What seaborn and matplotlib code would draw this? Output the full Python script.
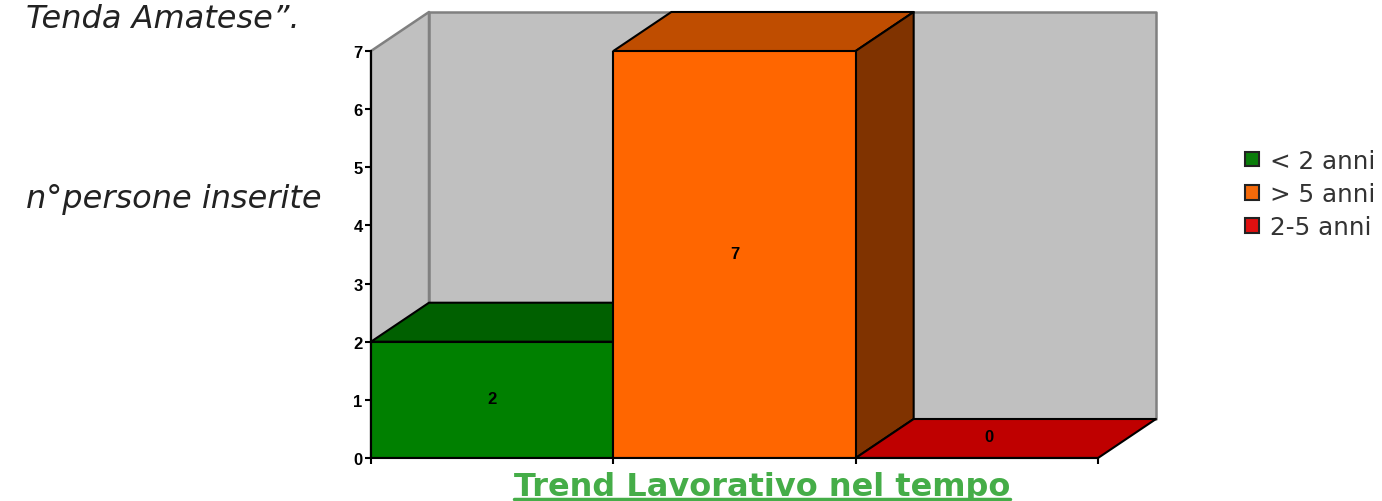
import matplotlib
matplotlib.use("Agg")
import numpy as np
import pandas as pd
import seaborn as sns
import matplotlib.pyplot as plt
from matplotlib.colors import to_rgb
from matplotlib.lines import Line2D
from matplotlib.patches import Patch, Polygon

# ------ dati ------ #
categories = ["< 2 anni", "> 5 anni", "2-5 anni"]
values = [2, 7, 0]
bar_colors = ["#008000", "#FF6600", "#FF0000"]
legend_colors = ["#0A7D0A", "#F56A0A", "#E01010"]
y_ticks = [0, 1, 2, 3, 4, 5, 6, 7]
chart_title = "Trend Lavorativo nel tempo"
side_notes = ["Tenda Amatese”.", "n°persone inserite"]

W, H = 1382, 502
DEPTH_X = 58 / 242.33   # profondita' 3D in unita' dei dati
DEPTH_Y = 39 / 58.14


def shade(color, factor):
    return tuple(c * factor for c in to_rgb(color))


def face(ax, pts, color, edge="black", z=2, lw=1.5):
    ax.add_patch(Polygon(pts, closed=True, facecolor=color, edgecolor=edge,
                         linewidth=lw, zorder=z, clip_on=False, joinstyle="round"))


sns.set_style("white")
plt.rcParams["font.family"] = ["Liberation Sans", "DejaVu Sans"]

fig = plt.figure(figsize=(W / 100, H / 100), dpi=100)
ax = fig.add_axes([371 / W, 1 - 459 / H, (1098 - 371) / W, (458 - 51) / H])

df = pd.DataFrame({"periodo": categories, "persone": values})
sns.barplot(data=df, x="periodo", y="persone", hue="periodo", palette=bar_colors,
            width=1, dodge=False, legend=False, saturation=1, ax=ax,
            edgecolor="black", linewidth=1.5, zorder=3)

ax.set_xlim(-0.5, 2.5)
ax.set_ylim(0, 7)

# ------ pareti di fondo ------ #
top = y_ticks[-1]
wall = "#C0C0C0"
wall_edge = "#808080"
face(ax, [(-0.5, 0), (-0.5 + DEPTH_X, DEPTH_Y), (-0.5 + DEPTH_X, top + DEPTH_Y), (-0.5, top)],
     wall, wall_edge, 0.5, lw=1.8)
face(ax, [(-0.5 + DEPTH_X, DEPTH_Y), (2.5 + DEPTH_X, DEPTH_Y),
          (2.5 + DEPTH_X, top + DEPTH_Y), (-0.5 + DEPTH_X, top + DEPTH_Y)],
     wall, wall_edge, 0.6, lw=1.8)

# ------ facce superiori e laterali delle barre ------ #
for i, (v, c) in enumerate(zip(values, bar_colors)):
    x0, x1 = i - 0.5, i + 0.5
    face(ax, [(x0, v), (x1, v), (x1 + DEPTH_X, v + DEPTH_Y), (x0 + DEPTH_X, v + DEPTH_Y)],
         shade(c, 0.75), z=2 + i * 0.1)
    if v > 0:
        face(ax, [(x1, 0), (x1 + DEPTH_X, DEPTH_Y), (x1 + DEPTH_X, v + DEPTH_Y), (x1, v)],
             shade(c, 0.5), z=2 + i * 0.1)
    # etichetta del valore
    lx, ly = (i, v / 2 + 0.02) if v > 0 else (i + 0.05, 0.37)
    ax.text(lx, ly, str(v), ha="center", va="center", fontsize=12,
            fontweight="bold", color="black", zorder=5)

# ------ assi ------ #
sns.despine(ax=ax, top=True, right=True)
for s in ["left", "bottom"]:
    ax.spines[s].set_color("black")
    ax.spines[s].set_linewidth(1.5)
    ax.spines[s].set_zorder(6)
ax.set_yticks(y_ticks)
ax.set_xticks(np.arange(-0.5, 3, 1))
ax.set_xticklabels([])
ax.set_xlabel("")
ax.set_ylabel("")
ax.tick_params(axis="both", left=True, bottom=True, length=4.5, width=1.5, color="black")
ax.tick_params(axis="y", pad=1.5, labelcolor="black")
for lab in ax.get_yticklabels():
    lab.set_fontsize(12)
    lab.set_fontweight("bold")
ax.set_facecolor("none")

# ------ testi esterni ------ #
fig.text(26 / W, 1 - 20 / H, side_notes[0], fontsize=23, style="italic",
         family="DejaVu Sans", color="#222222", va="center", ha="left")
fig.text(26 / W, 1 - 200 / H, side_notes[1], fontsize=23, style="italic",
         family="DejaVu Sans", color="#222222", va="center", ha="left")

green = "#45AD48"
fig.text(762 / W, 1 - 488 / H, chart_title, fontsize=23, fontweight="bold",
         family="DejaVu Sans", color=green, va="center", ha="center")
fig.add_artist(Line2D([514 / W, 1010 / W], [1 - 500 / H, 1 - 500 / H], color=green, linewidth=2.5))

# ------ legenda ------ #
handles = [Patch(facecolor=c, edgecolor="#222222", linewidth=1.5) for c in legend_colors]
leg = fig.legend(handles, categories, loc="center left", bbox_to_anchor=(1245 / W, 1 - 195 / H),
                 frameon=False, handlelength=0.55, handleheight=0.55,
                 handletextpad=0.45, labelspacing=0.38, borderpad=0, borderaxespad=0,
                 prop={"family": "DejaVu Sans", "size": 17.7})
for t in leg.get_texts():
    t.set_color("#333333")

fig.savefig("out.png", dpi=100)
